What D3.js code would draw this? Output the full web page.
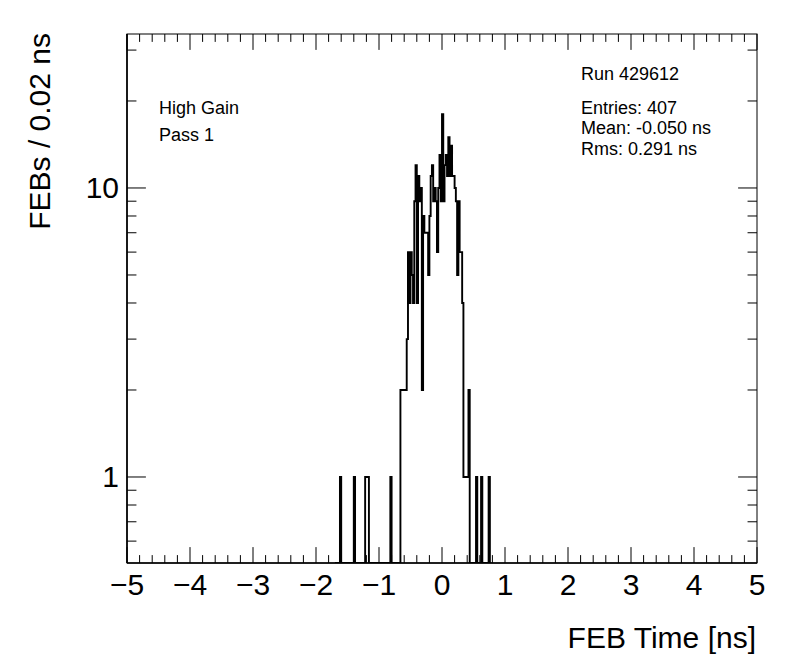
<!DOCTYPE html>
<html>
<head>
<meta charset="utf-8">
<script src="https://cdn.jsdelivr.net/npm/d3@7"></script>
<style>
  html, body { margin: 0; padding: 0; background: #fff; }
  svg { display: block; }
  text { font-family: "Liberation Sans", Arial, Helvetica, sans-serif; fill: #000; }
</style>
</head>
<body>
<svg id="chart" width="796" height="672"></svg>
<script>
// ---- Data ----
const binWidth = 0.02;
const firstBinLow = -1.70;           // low edge of the first listed bin
// Counts per 0.02 ns bin, from -1.70 to 0.80 ns (all other bins are empty)
const counts = [
  0,0,0,0,1,0,0,0,0,0,0,0,0,0,0,1,0,0,0,0,0,0,0,0,1,1,1,
  0,0,0,0,0,0,0,0,0,0,0,0,0,0,0,0,0,1,0,0,0,0,0,0,0,
  2,2,2,2,2,3,6,4,6,5,4,9,12,4,11,9,10,
  2,8,7,7,7,5,8,11,12,9,
  10,9,6,10,13,9,18,9,12,13,
  11,15,11,14,11,11,10,9,5,9,
  6,6,4,1,1,1,1,2,
  0,0,0,0,0,1,0,0,0,1,0,0,0,0,0,1,0
];
const xDomain = [-5, 5];
const yDomain = [0.504, 34.1];
const xTickLabels = [-5,-4,-3,-2,-1,0,1,2,3,4,5];
const yTickLabels = [1, 10];
const yMinorTicks = [0.6,0.7,0.8,0.9,2,3,4,5,6,7,8,9,20,30];
const infoLeft = ["High Gain", "Pass 1"];
const runText = "Run 429612";
const statsText = ["Entries: 407", "Mean: -0.050 ns", "Rms: 0.291 ns"];
const xTitle = "FEB Time [ns]";
const yTitle = "FEBs / 0.02 ns";

// ---- Layout ----
const L = 127, R = 757, T = 34, B = 563;
const svg = d3.select("#chart");
const x = d3.scaleLinear().domain(xDomain).range([L, R]);
const y = d3.scaleLog().domain(yDomain).range([B, T]);

const bins = counts.map((c, i) => ({ lo: firstBinLow + i * binWidth, hi: firstBinLow + (i + 1) * binWidth, c }));
const yv = c => c > 0 ? y(c) : B;

// ---- Histogram (step outline) ----
const pts = [[x(bins[0].lo), B]];
bins.forEach(b => { pts.push([x(b.lo), yv(b.c)]); pts.push([x(b.hi), yv(b.c)]); });
pts.push([x(bins[bins.length - 1].hi), B]);

svg.append("defs").append("clipPath").attr("id", "clip")
  .append("rect").attr("x", L).attr("y", T).attr("width", R - L).attr("height", B - T);

svg.append("path")
  .attr("clip-path", "url(#clip)")
  .attr("d", d3.line()(pts))
  .attr("fill", "none")
  .attr("stroke", "#000")
  .attr("stroke-width", 1.9)
  .attr("stroke-linejoin", "miter");

// ---- Frame ----
svg.append("rect").attr("x", L).attr("y", T).attr("width", R - L).attr("height", B - T)
  .attr("fill", "none").attr("stroke", "#000").attr("stroke-width", 1);

const g = svg.append("g").attr("stroke", "#000").attr("stroke-width", 1);
// X axis ticks (bottom & top)
const xMajLen = 15.9, xMinLen = 7.9;
const xMinor = d3.range(-5, 5.0001, 0.2);
xMinor.forEach(v => {
  const isMaj = Math.abs(v - Math.round(v)) < 1e-6;
  const len = isMaj ? xMajLen : xMinLen;
  const px = x(v);
  g.append("line").attr("x1", px).attr("x2", px).attr("y1", B).attr("y2", B - len);
  g.append("line").attr("x1", px).attr("x2", px).attr("y1", T).attr("y2", T + len);
});
// bottom & left axis lines slightly thicker
svg.append("line").attr("x1", L).attr("x2", R).attr("y1", B).attr("y2", B)
  .attr("stroke", "#000").attr("stroke-width", 1.6);
svg.append("line").attr("x1", L).attr("x2", L).attr("y1", T).attr("y2", B)
  .attr("stroke", "#000").attr("stroke-width", 1.6);

// Y axis ticks (left & right)
const yMajLen = 18.9, yMinLen = 9.45;
yTickLabels.forEach(v => {
  const py = y(v);
  g.append("line").attr("x1", L).attr("x2", L + yMajLen).attr("y1", py).attr("y2", py);
  g.append("line").attr("x1", R).attr("x2", R - yMajLen).attr("y1", py).attr("y2", py);
});
yMinorTicks.forEach(v => {
  const py = y(v);
  g.append("line").attr("x1", L).attr("x2", L + yMinLen).attr("y1", py).attr("y2", py);
  g.append("line").attr("x1", R).attr("x2", R - yMinLen).attr("y1", py).attr("y2", py);
});

// ---- Tick labels ----
const fmt = v => v < 0 ? "\u2212" + Math.abs(v) : String(v);
svg.append("g").selectAll("text").data(xTickLabels).join("text")
  .attr("x", d => x(d)).attr("y", 595)
  .attr("text-anchor", "middle").attr("font-size", 30)
  .text(fmt);
svg.append("g").selectAll("text").data(yTickLabels).join("text")
  .attr("x", 119).attr("y", d => y(d) + 10.5)
  .attr("text-anchor", "end").attr("font-size", 30)
  .text(d => String(d));

// ---- Axis titles ----
svg.append("text").attr("x", 756).attr("y", 648)
  .attr("text-anchor", "end").attr("font-size", 30).text(xTitle);
svg.append("text").attr("transform", "translate(50,33) rotate(-90)")
  .attr("text-anchor", "end").attr("font-size", 30).text(yTitle);

// ---- Annotations ----
svg.append("g").selectAll("text").data(infoLeft).join("text")
  .attr("x", 159).attr("y", (d, i) => 114 + i * 26.5)
  .attr("font-size", 18).text(d => d);
svg.append("text").attr("x", 581).attr("y", 79.5).attr("font-size", 18).text(runText);
svg.append("g").selectAll("text").data(statsText).join("text")
  .attr("x", 581).attr("y", (d, i) => 113.5 + i * 20.8)
  .attr("font-size", 18).text(d => d);
</script>
</body>
</html>
